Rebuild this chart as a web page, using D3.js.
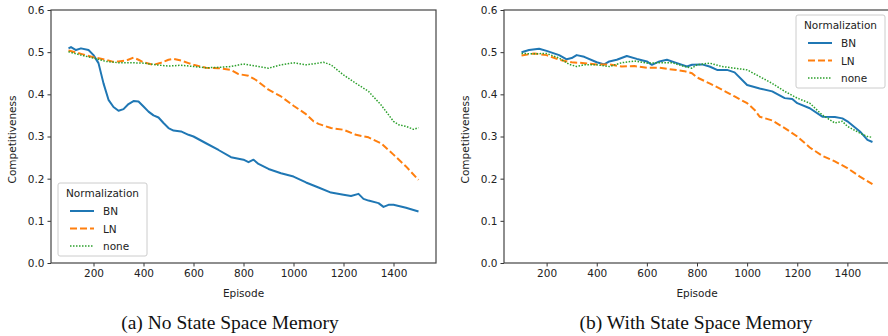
<!DOCTYPE html>
<html>
<head>
<meta charset="utf-8">
<script src="https://cdn.jsdelivr.net/npm/d3@7"></script>
<style>
  body { margin: 0; background: #fff; }
  svg { display: block; }
  .tick text { font-family: "DejaVu Sans", sans-serif; font-size: 10.5px; fill: #222; }
</style>
</head>
<body>
<div class="vis"></div>
<script>
// series: [episode, competitiveness]
const noMemBN = [[100,0.509],[110,0.512],[130,0.505],[150,0.509],[180,0.505],[200,0.493],[220,0.474],[240,0.426],[260,0.387],[280,0.370],[300,0.361],[320,0.365],[340,0.377],[360,0.384],[380,0.383],[400,0.371],[420,0.359],[440,0.350],[460,0.345],[480,0.332],[500,0.320],[520,0.314],[550,0.312],[580,0.304],[600,0.300],[650,0.284],[700,0.268],[750,0.251],[800,0.245],[820,0.239],[840,0.245],[860,0.235],[900,0.223],[950,0.213],[1000,0.205],[1050,0.191],[1100,0.179],[1150,0.167],[1200,0.162],[1230,0.159],[1260,0.164],[1280,0.152],[1300,0.148],[1340,0.142],[1360,0.133],[1380,0.138],[1400,0.138],[1450,0.131],[1500,0.122]];
const noMemLN = [[100,0.504],[150,0.496],[200,0.488],[250,0.482],[280,0.477],[300,0.478],[330,0.480],[360,0.487],[380,0.482],[400,0.476],[440,0.470],[470,0.475],[500,0.482],[520,0.484],[550,0.480],[580,0.474],[600,0.470],[650,0.463],[700,0.462],[750,0.458],[780,0.448],[820,0.444],[850,0.434],[900,0.411],[950,0.395],[1000,0.373],[1050,0.353],[1080,0.336],[1100,0.330],[1150,0.320],[1200,0.316],[1250,0.304],[1300,0.298],[1350,0.284],[1400,0.257],[1450,0.229],[1500,0.197]];
const noMemNone = [[100,0.501],[150,0.493],[200,0.486],[250,0.478],[300,0.475],[350,0.475],[400,0.474],[450,0.470],[500,0.467],[550,0.469],[600,0.466],[650,0.463],[700,0.464],[750,0.466],[800,0.472],[850,0.467],[900,0.462],[950,0.470],[1000,0.475],[1050,0.470],[1100,0.474],[1120,0.476],[1150,0.470],[1200,0.446],[1250,0.426],[1300,0.407],[1350,0.375],[1400,0.336],[1420,0.328],[1450,0.324],[1480,0.317],[1500,0.321]];

const memBN = [[100,0.500],[130,0.505],[170,0.508],[200,0.503],[250,0.493],[280,0.483],[300,0.486],[320,0.493],[350,0.489],[400,0.476],[430,0.471],[450,0.478],[480,0.482],[520,0.491],[560,0.484],[600,0.478],[620,0.470],[650,0.478],[680,0.482],[720,0.474],[760,0.466],[780,0.470],[820,0.471],[850,0.466],[880,0.458],[920,0.458],[950,0.452],[1000,0.422],[1050,0.414],[1100,0.407],[1150,0.391],[1180,0.389],[1200,0.379],[1250,0.367],[1300,0.347],[1350,0.346],[1380,0.343],[1400,0.336],[1450,0.312],[1480,0.292],[1500,0.287]];
const memLN = [[100,0.492],[150,0.497],[200,0.493],[250,0.482],[300,0.476],[350,0.474],[400,0.471],[450,0.471],[500,0.466],[550,0.467],[600,0.463],[650,0.463],[700,0.459],[750,0.455],[780,0.450],[800,0.440],[850,0.426],[900,0.411],[950,0.395],[1000,0.379],[1030,0.363],[1050,0.347],[1100,0.338],[1150,0.320],[1200,0.300],[1250,0.274],[1300,0.254],[1350,0.241],[1400,0.225],[1450,0.205],[1500,0.187]];
const memNone = [[100,0.497],[150,0.496],[200,0.497],[250,0.486],[290,0.471],[320,0.466],[350,0.470],[400,0.470],[450,0.466],[500,0.475],[550,0.479],[600,0.474],[650,0.475],[700,0.475],[750,0.466],[780,0.462],[800,0.470],[850,0.474],[900,0.466],[950,0.462],[1000,0.458],[1050,0.442],[1100,0.426],[1150,0.407],[1200,0.391],[1250,0.379],[1300,0.351],[1350,0.332],[1380,0.336],[1400,0.324],[1450,0.308],[1480,0.300],[1500,0.298]];

const seriesNames = ["BN", "LN", "none"];
const xTicks = [200, 400, 600, 800, 1000, 1200, 1400];
const yTicks = [0.0, 0.1, 0.2, 0.3, 0.4, 0.5, 0.6];
const captions = ["(a) No State Space Memory", "(b) With State Space Memory"];

const W = 888, H = 336;
const svg = d3.select(".vis").append("svg")
    .attr("width", W)
    .attr("height", H);

const color = d3.scaleOrdinal()
    .domain(seriesNames)
    .range(["#1f77b4", "#ff7f0e", "#2ca02c"]);
const dash = { BN: null, LN: "7,3", none: "1.5,1.5" };
const widths = { BN: 2, LN: 2, none: 1.5 };

function drawPanel(left, right, data, legendPos, caption, captionX) {
    const top = 10, bottom = 263;
    const x = d3.scaleLinear().domain([30, 1570]).range([left, right]);
    const y = d3.scaleLinear().domain([0, 0.6]).range([bottom, top]);
    const g = svg.append("g");

    g.append("g").attr("transform", "translate(0," + bottom + ")")
        .call(d3.axisBottom(x).tickValues(xTicks).tickSize(3.5).tickPadding(3).tickFormat(d3.format("d")))
        .call(a => a.select(".domain").remove());
    g.append("g").attr("transform", "translate(" + left + ",0)")
        .call(d3.axisLeft(y).tickValues(yTicks).tickSize(3.5).tickPadding(3).tickFormat(d3.format(".1f")))
        .call(a => a.select(".domain").remove());
    g.selectAll(".tick line").attr("stroke", "#333");

    const line = d3.line().x(d => x(d[0])).y(d => y(d[1]));
    seriesNames.forEach((name, i) => {
        g.append("path")
            .datum(data[i])
            .attr("fill", "none")
            .attr("stroke", color(name))
            .attr("stroke-width", widths[name])
            .attr("stroke-dasharray", dash[name])
            .attr("stroke-linejoin", "round")
            .attr("d", line);
    });

    g.append("rect")
        .attr("x", left).attr("y", top)
        .attr("width", right - left).attr("height", bottom - top)
        .attr("fill", "none").attr("stroke", "#444").attr("stroke-width", 1.2);

    g.append("text")
        .attr("x", (left + right) / 2)
        .attr("y", 297)
        .attr("text-anchor", "middle")
        .style("font-family", "DejaVu Sans, sans-serif")
        .style("font-size", "10.5px")
        .attr("fill", "#222")
        .text("Episode");

    g.append("text")
        .attr("transform", "translate(" + (left - 35) + "," + ((top + bottom) / 2 + 3) + ") rotate(-90)")
        .attr("text-anchor", "middle")
        .style("font-family", "DejaVu Sans, sans-serif")
        .style("font-size", "10.5px")
        .attr("fill", "#222")
        .text("Competitiveness");

    // legend
    const lg = g.append("g").attr("transform", "translate(" + legendPos[0] + "," + legendPos[1] + ")");
    lg.append("rect")
        .attr("width", 89).attr("height", 73).attr("rx", 2)
        .attr("fill", "#fff").attr("fill-opacity", 0.85)
        .attr("stroke", "#ccc");
    lg.append("text")
        .attr("x", 44.5).attr("y", 14)
        .attr("text-anchor", "middle")
        .style("font-family", "DejaVu Sans, sans-serif")
        .style("font-size", "10.5px")
        .attr("fill", "#222")
        .text("Normalization");
    seriesNames.forEach((name, i) => {
        const ly = 28 + i * 17.5;
        lg.append("line")
            .attr("x1", 12).attr("x2", 36)
            .attr("y1", ly).attr("y2", ly)
            .attr("stroke", color(name))
            .attr("stroke-width", widths[name])
            .attr("stroke-dasharray", dash[name]);
        lg.append("text")
            .attr("x", 45).attr("y", ly + 4)
            .style("font-family", "DejaVu Sans, sans-serif")
            .style("font-size", "10.5px")
            .attr("fill", "#222")
            .text(name);
    });

    svg.append("text")
        .attr("x", captionX)
        .attr("y", 329)
        .attr("text-anchor", "middle")
        .style("font-family", "Liberation Serif, serif")
        .style("font-size", "19.5px")
        .attr("fill", "#111")
        .text(caption);
}

drawPanel(51, 436, [noMemBN, noMemLN, noMemNone], [58, 183], captions[0], 230);
drawPanel(504, 890, [memBN, memLN, memNone], [796, 15], captions[1], 696);
</script>
</body>
</html>
